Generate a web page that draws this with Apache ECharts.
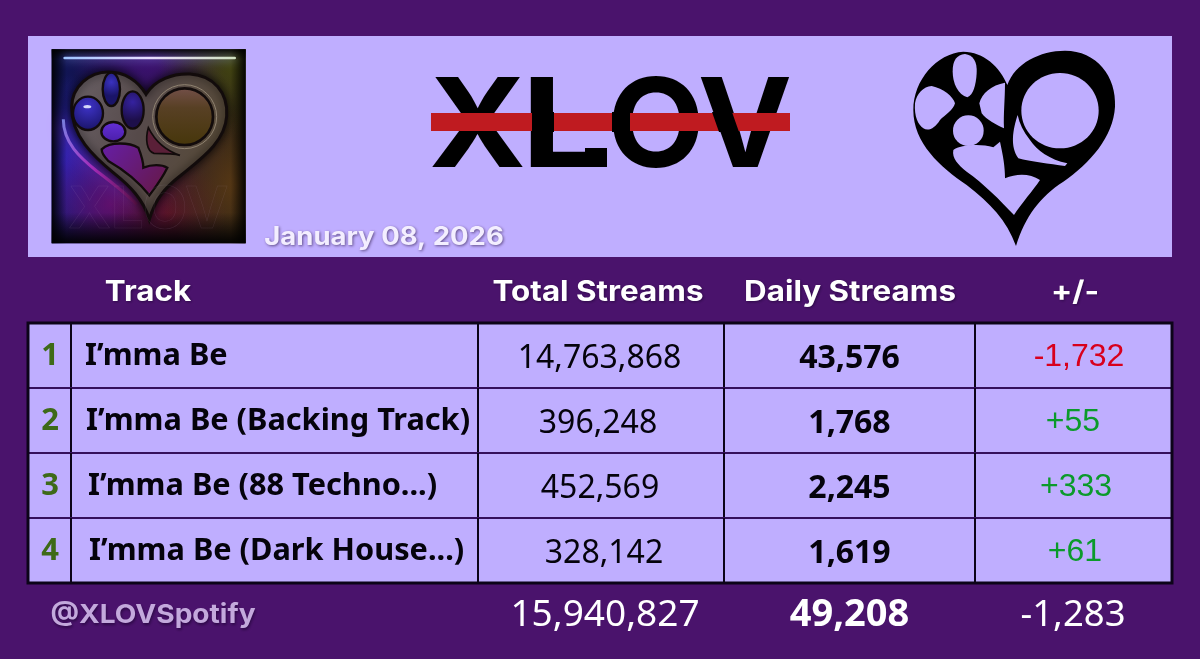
<!DOCTYPE html>
<html>
<head>
<meta charset="utf-8">
<title>XLOV streams</title>
<style>
  html, body { margin: 0; padding: 0; background: #4a136c; }
  #chart { width: 1200px; height: 659px; }
</style>
<script src="https://cdn.jsdelivr.net/npm/echarts@6/dist/echarts.min.js"></script>
</head>
<body>
<div id="chart"></div>
<script>
// table data
var rowKeys = ['head', '1', '2', '3', '4', 'total'];
var headers = ['Track', 'Total Streams', 'Daily Streams', '+/-'];
var ranks = ['1', '2', '3', '4'];
var tracks = ['I’mma Be', 'I’mma Be (Backing Track)', 'I’mma Be (88 Techno...)', 'I’mma Be (Dark House...)'];
var totalStreams = [14763868, 396248, 452569, 328142];
var dailyStreams = [43576, 1768, 2245, 1619];
var changes = [-1732, 55, 333, 61];
var sumRow = [15940827, 49208, -1283];
var dateText = 'January 08, 2026';
var handleText = '@XLOVSpotify';
var logoText = 'XLOV';

var BG = '#4a136c';
var PANEL = '#bfaeff';
var colEdges = [28, 71, 478, 724, 975, 1172];
var RED = '#d8001c';
var GREEN = '#0b9a2b';

var chart = echarts.init(document.getElementById('chart'), null, { renderer: 'canvas' });

function fmt(n) {
  return n.toLocaleString('en-US');
}
function fmtSigned(n) {
  return (n > 0 ? '+' : '') + fmt(n);
}
function label(x, y, text, font, fill, extra, scaleX) {
  var style = {
    text: text, x: 0, y: 0, fill: fill, font: font,
    align: 'center', verticalAlign: 'middle'
  };
  for (var k in extra) style[k] = extra[k];
  return { type: 'text', x: x, y: y, scaleX: scaleX || 1, style: style, silent: true };
}
var softShadow = { textShadowColor: 'rgba(20,0,40,0.55)', textShadowBlur: 3, textShadowOffsetX: 1, textShadowOffsetY: 1.5 };

// metallic heart picture, coordinates are in the 3x zoom space
function albumArt() {
  var lg = echarts.graphic.LinearGradient;
  var rg = echarts.graphic.RadialGradient;
  var metal = '#120b0b';
  var square = { x: 65, y: 40, width: 582, height: 582 };
  function glow(cx, cy, r, color) {
    return { type: 'rect', shape: square, style: { fill: new rg(cx, cy, r, [
      { offset: 0, color: color }, { offset: 1, color: color.replace(/[\d.]+\)$/, '0)') }
    ]) } };
  }
  function edge(x0, y0, x1, y1, shape) {
    return { type: 'rect', shape: shape, style: { fill: new lg(x0, y0, x1, y1, [
      { offset: 0, color: 'rgba(0,0,0,0.92)' }, { offset: 1, color: 'rgba(0,0,0,0)' }
    ]) } };
  }
  return {
    type: 'group', x: 30, y: 36, scaleX: 1 / 3, scaleY: 1 / 3, silent: true,
    children: [
      { type: 'rect', shape: square, style: {
        fill: new lg(0, 0, 1, 0, [
          { offset: 0, color: '#0f1658' }, { offset: 0.5, color: '#1e0c3c' }, { offset: 1, color: '#33280f' }
        ]) } },
      glow(0.5, 0.02, 0.4, 'rgba(70,20,130,0.85)'),
      glow(0.95, 0.05, 0.4, 'rgba(75,85,15,0.7)'),
      glow(0.05, 0.58, 0.45, 'rgba(50,35,190,0.9)'),
      glow(0.3, 0.8, 0.35, 'rgba(110,15,110,0.8)'),
      glow(0.6, 0.85, 0.3, 'rgba(105,20,35,0.75)'),
      glow(0.95, 0.7, 0.4, 'rgba(95,60,20,0.8)'),
      edge(0, 0, 1, 0, { x: 65, y: 40, width: 45, height: 582 }),
      edge(1, 0, 0, 0, { x: 602, y: 40, width: 45, height: 582 }),
      edge(0, 0, 0, 1, { x: 65, y: 40, width: 582, height: 30 }),
      edge(0, 1, 0, 0, { x: 65, y: 530, width: 582, height: 92 }),
      { type: 'rect', shape: { x: 100, y: 62, width: 518, height: 8, r: 4 }, style: {
        fill: new lg(0, 0, 1, 0, [
          { offset: 0, color: '#9fc4ff' }, { offset: 0.5, color: '#e8dcff' }, { offset: 1, color: '#cfe0c0' }
        ]), shadowBlur: 10, shadowColor: 'rgba(150,170,255,0.8)' } },
      { type: 'path', shape: { pathData: 'M100 250 C100 320 150 365 200 405 C240 435 285 470 320 505' },
        style: { fill: 'none', stroke: new lg(0, 0, 1, 1, [
          { offset: 0, color: '#8fa0ff' }, { offset: 0.5, color: '#c030c8' }, { offset: 1, color: '#601048' }
        ]), lineWidth: 9, opacity: 0.8, shadowBlur: 16, shadowColor: '#a040e0' } },
      { type: 'path', shape: { pathData: 'M358 550 C340 490 300 450 250 410 C190 360 125 300 125 215 C125 150 180 108 235 108 C285 108 325 135 348 175 C375 130 430 112 480 114 C550 118 595 170 590 240 C585 320 510 370 450 420 C405 455 375 490 358 550Z' },
        style: { fill: new lg(0, 0, 1, 0.3, [
          { offset: 0, color: '#6a6167' }, { offset: 0.5, color: '#564a4a' }, { offset: 1, color: '#574a38' }
        ]), stroke: metal, lineWidth: 9, shadowBlur: 10, shadowColor: 'rgba(0,0,0,0.8)' } },
      { type: 'ellipse', shape: { cx: 244, cy: 160, rx: 26, ry: 50 }, style: { fill: new rg(0.5, 0.3, 0.7, [{ offset: 0, color: '#3a32c0' }, { offset: 1, color: '#1a1468' }]), stroke: metal, lineWidth: 7 } },
      { type: 'ellipse', shape: { cx: 174, cy: 232, rx: 45, ry: 50 }, style: { fill: new rg(0.5, 0.3, 0.75, [{ offset: 0, color: '#3e33c8' }, { offset: 1, color: '#1a1468' }]), stroke: metal, lineWidth: 7 } },
      { type: 'ellipse', shape: { cx: 308, cy: 222, rx: 33, ry: 56 }, style: { fill: new rg(0.5, 0.3, 0.75, [{ offset: 0, color: '#3522a0' }, { offset: 1, color: '#1d0f4a' }]), stroke: metal, lineWidth: 7 } },
      { type: 'ellipse', shape: { cx: 172, cy: 212, rx: 12, ry: 5 }, style: { fill: 'rgba(230,235,255,0.9)' } },
      { type: 'ellipse', shape: { cx: 250, cy: 287, rx: 36, ry: 29 }, style: { fill: new lg(0, 0, 0, 1, [{ offset: 0, color: '#6530d8' }, { offset: 1, color: '#4a1ea8' }]), stroke: metal, lineWidth: 7 } },
      { type: 'path', shape: { pathData: 'M215 340 C240 315 300 320 325 335 C335 360 340 380 340 395 C365 385 395 385 412 395 C395 430 375 455 358 478 C320 430 270 395 235 375 C225 365 215 355 215 340Z' },
        style: { fill: new lg(0, 0, 1, 1, [{ offset: 0, color: '#661ea8' }, { offset: 1, color: '#661840' }]), stroke: metal, lineWidth: 7 } },
      { type: 'path', shape: { pathData: 'M355 275 C345 310 350 345 372 352 C400 352 430 352 450 358 C410 345 375 315 355 275Z' },
        style: { fill: '#5a2038', stroke: metal, lineWidth: 5 } },
      { type: 'circle', shape: { cx: 464, cy: 242, r: 96 }, style: { fill: 'rgba(0,0,0,0)', stroke: '#8f8270', lineWidth: 3 } },
      { type: 'circle', shape: { cx: 464, cy: 242, r: 85 }, style: {
        fill: new lg(0, 0, 0, 1, [{ offset: 0, color: '#74504a' }, { offset: 0.35, color: '#584024' }, { offset: 1, color: '#46360a' }]),
        stroke: metal, lineWidth: 8 } },
      { type: 'text', x: 355, y: 522, silent: true, style: {
        text: logoText, x: 0, y: 0, font: 'bold 175px Inter', align: 'center', verticalAlign: 'middle',
        fill: 'rgba(0,0,0,0)', stroke: 'rgba(200,170,210,0.13)', lineWidth: 1.5 } }
    ]
  };
}

// flat black heart on the right, 3x zoom space as well
function heartMark() {
  var holes = [
    'M232 112 C205 105 188 70 188 35 C188 0 200 -15 225 -18 C250 -15 262 5 260 40 C258 75 250 105 232 112Z',
    'M75 130 C80 100 100 80 125 78 C160 85 190 110 195 130 C190 150 165 165 150 180 C135 205 115 215 100 205 C85 195 72 170 75 130Z',
    'M268 130 C275 100 305 75 345 68 C345 120 340 160 342 205 C320 195 290 180 275 160Z',
    'M190 270 C210 255 270 250 310 262 L330 245 C340 290 345 320 345 355 C380 340 420 340 450 360 C430 390 395 430 372 465 C330 420 280 370 230 335 C205 315 185 295 190 270Z',
    'M383 165 C368 210 360 260 385 295 C420 305 480 312 525 318 L532 310 C480 300 440 270 420 240 C400 215 388 190 383 165Z'
  ];
  var kids = [{
    type: 'path',
    shape: { pathData: 'M378 558 C350 480 300 430 230 375 C150 320 70 250 70 150 C70 60 140 -20 220 -25 C280 -25 330 20 352 75 C375 10 450 -28 525 -28 C620 -28 680 50 675 140 C670 230 600 310 520 365 C450 410 405 470 378 558Z' },
    style: { fill: '#000' }
  }];
  holes.forEach(function (d) {
    kids.push({ type: 'path', shape: { pathData: d }, style: { fill: PANEL } });
  });
  kids.push({ type: 'ellipse', shape: { cx: 510, cy: 152, rx: 116, ry: 113 }, style: { fill: PANEL } });
  kids.push({ type: 'circle', shape: { cx: 235, cy: 212, r: 46 }, style: { fill: PANEL } });
  return { type: 'group', x: 890, y: 60, scaleX: 1 / 3, scaleY: 1 / 3, silent: true, children: kids };
}

function renderBanner() {
  var letterX = [477.5, 563, 656, 745];
  var letterScale = [1.06, 1.2, 1.02, 1.02];
  var kids = [
    { type: 'rect', shape: { x: 28, y: 36, width: 1144, height: 221 }, style: { fill: PANEL }, silent: true },
    albumArt()
  ];
  logoText.split('').forEach(function (ch, k) {
    kids.push(label(letterX[k], 130, ch, 'bold 124px Inter', '#000', null, letterScale[k]));
  });
  // foot of the L is longer in the logo
  kids.push({ type: 'rect', shape: { x: 585, y: 148, width: 22, height: 19 }, style: { fill: '#000' }, silent: true });
  // red bar runs over some strokes and under others
  kids.push({ type: 'rect', shape: { x: 431, y: 113, width: 359, height: 18 }, style: { fill: '#bf1b20' }, silent: true });
  kids.push({ type: 'rect', shape: { x: 532, y: 112, width: 22, height: 20 }, style: { fill: '#000' }, silent: true });
  kids.push({ type: 'rect', shape: { x: 612, y: 112, width: 18, height: 20 }, style: { fill: '#000' }, silent: true });
  kids.push({ type: 'polygon', shape: { points: [[712, 112], [732, 112], [739, 132], [719, 132]] }, style: { fill: '#000' }, silent: true });
  kids.push(heartMark());
  kids.push(label(384, 237, dateText, 'bold 25px Inter', '#f3eeff', softShadow, 1.1));
  return { type: 'group', children: kids };
}

function renderRow(params, api) {
  var i = api.value(1) - 1;
  var c = api.coord([0, api.value(1)]);
  var h = api.size([0, 1])[1];
  var top = c[1] - h / 2;
  var kids = [];
  var toX = function (v) { return api.coord([v, 0])[0]; };
  var left = toX(colEdges[0]), right = toX(colEdges[5]);
  kids.push({ type: 'rect', shape: { x: left, y: top, width: right - left, height: h }, style: { fill: PANEL } });
  if (i > 0) {
    kids.push({ type: 'line', shape: { x1: left, y1: top, x2: right, y2: top }, style: { stroke: '#35105c', lineWidth: 2 } });
  }
  for (var e = 1; e < 5; e++) {
    var ex = toX(colEdges[e]);
    kids.push({ type: 'line', shape: { x1: ex, y1: top, x2: ex, y2: top + h }, style: { stroke: '#0c0418', lineWidth: 2 } });
  }
  var y = c[1];
  var trackX = [85, 86, 88, 89][i];
  var totalX = [599.5, 598, 600, 604][i];
  var changeX = [1079, 1073, 1076, 1075][i];
  kids.push(label(50, y + 1, ranks[i], 'bold 31px "Noto Sans"', '#3e6a18'));
  kids.push(label(trackX, y + 1, tracks[i], 'bold 30.7px "Noto Sans"', '#05030c', { align: 'left' }));
  kids.push(label(totalX, y + 3, fmt(totalStreams[i]), '32px "Noto Sans"', '#05030c'));
  kids.push(label(849.5, y + 3, fmt(dailyStreams[i]), 'bold 32px "Noto Sans"', '#05030c'));
  kids.push(label(changeX, y + 2, fmtSigned(changes[i]), '32px "Liberation Sans"', changes[i] < 0 ? RED : GREEN));
  return { type: 'group', children: kids, silent: true };
}

function renderHead(params, api) {
  var y = api.coord([0, 0])[1] + 2;
  var xs = [148, 598, 850, 1075];
  return {
    type: 'group', silent: true,
    children: headers.map(function (t, k) {
      return label(xs[k], y, t, 'bold 28px Inter', '#ffffff', softShadow, 1.12);
    })
  };
}

function renderTotal(params, api) {
  var y = api.coord([0, 5])[1];
  return {
    type: 'group', silent: true,
    children: [
      label(153, y, handleText, 'bold 26px Inter', '#c3a9dc', softShadow, 1.08),
      label(605, y, fmt(sumRow[0]), '37px "Noto Sans"', '#ffffff'),
      label(849.5, y, fmt(sumRow[1]), 'bold 38px "Noto Sans"', '#ffffff'),
      label(1073, y, fmtSigned(sumRow[2]), '36.5px "Noto Sans"', '#ffffff')
    ]
  };
}

function renderFrame(params, api) {
  var tl = api.coord([colEdges[0], 1]);
  var br = api.coord([colEdges[5], 4]);
  var h = api.size([0, 1])[1];
  return {
    type: 'rect', silent: true,
    shape: { x: tl[0], y: tl[1] - h / 2, width: br[0] - tl[0], height: br[1] - tl[1] + h },
    style: { fill: 'none', stroke: '#0c0418', lineWidth: 3 }
  };
}

var option = {
  backgroundColor: BG,
  animation: false,
  tooltip: { show: false },
  grid: { left: 0, right: 0, top: 258, height: 390 },
  xAxis: { type: 'value', min: 0, max: 1200, show: false },
  yAxis: { type: 'category', data: rowKeys, inverse: true, show: false },
  series: [
    { type: 'custom', renderItem: renderBanner, data: [[0, 0]], silent: true, z: 1 },
    { type: 'custom', renderItem: renderHead, data: [[0, 0]], silent: true, z: 2 },
    { type: 'custom', renderItem: renderRow, data: ranks.map(function (r, i) { return [0, i + 1]; }), silent: true, z: 2 },
    { type: 'custom', renderItem: renderFrame, data: [[0, 1]], silent: true, z: 3 },
    { type: 'custom', renderItem: renderTotal, data: [[0, 5]], silent: true, z: 2 }
  ]
};
chart.setOption(option);
</script>
</body>
</html>
